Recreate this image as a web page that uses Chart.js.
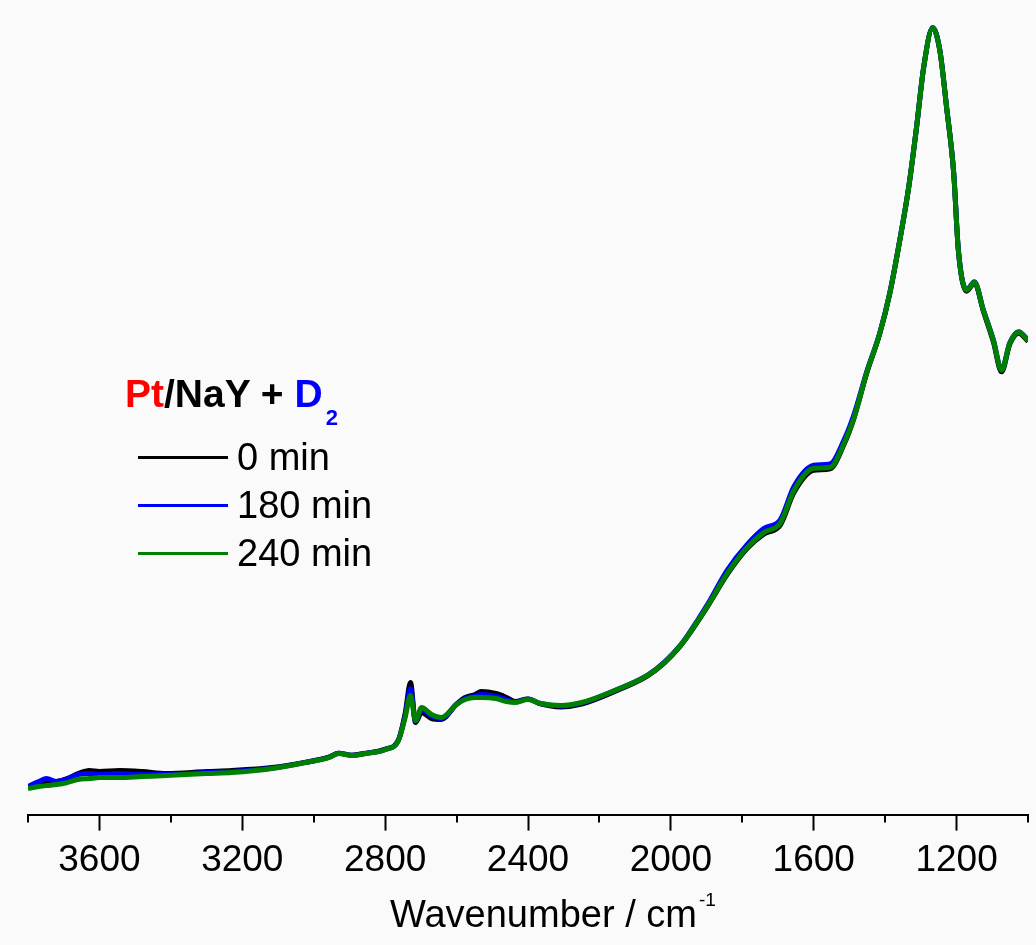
<!DOCTYPE html>
<html>
<head>
<meta charset="utf-8">
<title>Pt/NaY + D2 IR spectra</title>
<script src="https://cdn.jsdelivr.net/npm/chart.js@4.4.1/dist/chart.umd.min.js"></script>
<style>
  html, body { margin: 0; padding: 0; background: #fafafa; }
  #wrap { position: relative; width: 1036px; height: 945px; overflow: hidden; background: #fafafa;
          font-family: "Liberation Sans", Arial, Helvetica, sans-serif; color: #000; }
  #spectra { position: absolute; left: 0; top: 0; }
  .txt { position: absolute; white-space: nowrap; }
  #legendTitle { left: 125px; top: 374px; font-size: 39px; line-height: 39px; font-weight: bold; }
  #legendTitle .pt { color: #ff0000; }
  #legendTitle .d2 { color: #0000ff; }
  #legendTitle .sub { font-size: 22px; position: relative; top: 18px; margin-left: 3px; }
  .legItem { position: absolute; left: 138px; height: 38px; }
  .legItem .swatch { position: absolute; left: 0; width: 90px; height: 3px; }
  .legItem .lab { position: absolute; left: 99px; font-size: 38px; line-height: 38px; white-space: nowrap; }
  #xTitle { left: 390px; top: 895px; font-size: 38px; line-height: 38px; }
  #xTitle .sup { font-size: 19px; position: relative; top: -21px; margin-left: 2px; }
</style>
</head>
<body>
<div id="wrap">
  <canvas id="spectra" width="1036" height="945"></canvas>
  <div id="legendTitle" class="txt"><span class="pt">Pt</span>/NaY + <span class="d2">D<span class="sub">2</span></span></div>
  <div id="legendBox"></div>
  <div id="xTitle" class="txt">Wavenumber / cm<span class="sup">-1</span></div>
</div>
<script>
// Wavenumbers (cm^-1) at which the spectra were sampled
const wavenumbers = [
  3800, 3770, 3748, 3720, 3690, 3660, 3628, 3600, 3544, 3480,
  3413, 3300, 3229, 3117, 3022, 2958, 2930, 2893, 2854, 2799,
  2763, 2744, 2729, 2715, 2698, 2670, 2643, 2600, 2576, 2548,
  2531, 2490, 2460, 2436, 2400, 2365, 2308, 2250, 2157, 2065,
  2018, 1973, 1954, 1898, 1842, 1786, 1739, 1694, 1655, 1600,
  1554, 1515, 1487, 1452, 1415, 1387, 1359, 1334, 1312, 1292,
  1267, 1247, 1228, 1208, 1195, 1172, 1150, 1125, 1097, 1074,
  1051, 1026, 1000
];

// Absorbance (a.u.) after 0 min under D2
const abs0min = [
  0.140, 0.150, 0.160, 0.165, 0.180, 0.205, 0.220, 0.215, 0.220, 0.215,
  0.205, 0.215, 0.220, 0.235, 0.262, 0.287, 0.307, 0.297, 0.307, 0.327,
  0.372, 0.505, 0.660, 0.460, 0.510, 0.480, 0.475, 0.552, 0.585, 0.600,
  0.615, 0.605, 0.585, 0.565, 0.578, 0.553, 0.538, 0.552, 0.615, 0.693,
  0.758, 0.843, 0.888, 1.038, 1.200, 1.330, 1.402, 1.445, 1.610, 1.720,
  1.728, 1.850, 1.982, 2.203, 2.403, 2.603, 2.868, 3.133, 3.433, 3.733,
  3.930, 3.818, 3.533, 3.203, 2.818, 2.615, 2.655, 2.515, 2.362, 2.212,
  2.350, 2.405, 2.365
];

// Absorbance (a.u.) after 180 min under D2
const abs180min = [
  0.140, 0.165, 0.180, 0.165, 0.180, 0.200, 0.205, 0.200, 0.205, 0.200,
  0.200, 0.210, 0.215, 0.232, 0.261, 0.286, 0.306, 0.296, 0.306, 0.326,
  0.371, 0.495, 0.630, 0.465, 0.525, 0.492, 0.480, 0.551, 0.580, 0.592,
  0.600, 0.592, 0.575, 0.562, 0.577, 0.555, 0.543, 0.557, 0.620, 0.697,
  0.762, 0.847, 0.893, 1.048, 1.222, 1.350, 1.430, 1.472, 1.640, 1.745,
  1.752, 1.872, 2.000, 2.210, 2.407, 2.607, 2.872, 3.137, 3.437, 3.737,
  3.932, 3.822, 3.537, 3.207, 2.822, 2.622, 2.662, 2.522, 2.372, 2.222,
  2.357, 2.412, 2.372
];

// Absorbance (a.u.) after 240 min under D2
const abs240min = [
  0.130, 0.140, 0.145, 0.150, 0.160, 0.175, 0.180, 0.185, 0.185, 0.190,
  0.195, 0.205, 0.210, 0.230, 0.260, 0.285, 0.305, 0.295, 0.305, 0.325,
  0.370, 0.485, 0.595, 0.470, 0.535, 0.500, 0.485, 0.550, 0.575, 0.585,
  0.585, 0.580, 0.565, 0.560, 0.575, 0.555, 0.545, 0.560, 0.620, 0.695,
  0.760, 0.845, 0.890, 1.040, 1.205, 1.335, 1.410, 1.455, 1.620, 1.730,
  1.735, 1.855, 1.985, 2.205, 2.405, 2.605, 2.870, 3.135, 3.435, 3.735,
  3.930, 3.820, 3.535, 3.205, 2.820, 2.620, 2.660, 2.520, 2.370, 2.220,
  2.355, 2.410, 2.370
];

const seriesLabels = ['0 min', '180 min', '240 min'];
const seriesColors = ['#000000', '#0000ff', '#008000'];
const seriesValues = [abs0min, abs180min, abs240min];

// Major tick labels on the wavenumber axis
const tickLabels = [3600, 3200, 2800, 2400, 2000, 1600, 1200];

const toPoints = vals => wavenumbers.map((w, i) => ({ x: w, y: vals[i] }));

// Short minor ticks between the labelled major ones
const minorTicks = {
  id: 'minorTicks',
  afterDraw(chart) {
    const sx = chart.scales.x;
    const ctx = chart.ctx;
    const y0 = chart.chartArea.bottom;
    ctx.save();
    ctx.strokeStyle = '#000';
    ctx.lineWidth = 2;
    sx.ticks.forEach(t => {
      if (!tickLabels.includes(t.value)) {
        const px = Math.round(sx.getPixelForValue(t.value));
        ctx.beginPath();
        ctx.moveTo(px, y0);
        ctx.lineTo(px, y0 + 8);
        ctx.stroke();
      }
    });
    ctx.restore();
  }
};

const chart = new Chart(document.getElementById('spectra'), {
  type: 'line',
  data: {
    datasets: seriesValues.map((vals, i) => ({
      label: seriesLabels[i],
      data: toPoints(vals),
      borderColor: seriesColors[i],
      backgroundColor: seriesColors[i],
      borderWidth: 5,
      pointRadius: 0,
      fill: false,
      cubicInterpolationMode: 'monotone',
      order: seriesValues.length - i
    }))
  },
  options: {
    responsive: false,
    animation: false,
    devicePixelRatio: 1,
    layout: { padding: { left: 28, right: 4, top: 14, bottom: 54 } },
    plugins: { legend: { display: false }, tooltip: { enabled: false } },
    scales: {
      x: {
        type: 'linear',
        reverse: true,
        min: 1000,
        max: 3800,
        border: { display: true, color: '#000', width: 2 },
        grid: {
          drawOnChartArea: false,
          drawTicks: true,
          tickLength: 16,
          tickWidth: 2,
          tickColor: ctx => (ctx.tick && tickLabels.includes(ctx.tick.value)) ? '#000' : 'rgba(0,0,0,0)'
        },
        ticks: {
          stepSize: 200,
          autoSkip: false,
          maxRotation: 0,
          padding: 8,
          color: '#000',
          font: { family: '"Liberation Sans", Arial, sans-serif', size: 37 },
          callback: v => tickLabels.includes(v) ? String(v) : ''
        }
      },
      y: { display: false, min: 0, max: 4 }
    }
  },
  plugins: [minorTicks]
});

// Legend entries built from the chart's own datasets
const box = document.getElementById('legendBox');
chart.data.datasets.forEach((ds, i) => {
  const item = document.createElement('div');
  item.className = 'legItem';
  item.style.top = (438 + i * 48) + 'px';
  const sw = document.createElement('div');
  sw.className = 'swatch';
  sw.style.background = ds.borderColor;
  sw.style.top = '18px';
  const lab = document.createElement('div');
  lab.className = 'lab';
  lab.textContent = ds.label;
  item.appendChild(sw);
  item.appendChild(lab);
  box.appendChild(item);
});
</script>
</body>
</html>
